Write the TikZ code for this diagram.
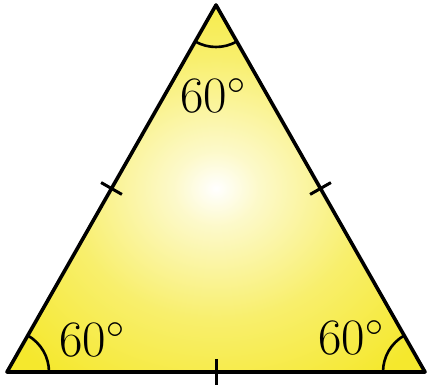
\RequirePackage{fix-cm}
\documentclass[tikz,border=0pt]{standalone}
\usetikzlibrary{calc,angles}
\definecolor{triyellow}{RGB}{245,232,45}
\pgfdeclareradialshading{trishade}{\pgfpoint{0bp}{0bp}}{%
  color(0bp)=(white);
  color(5bp)=(white!75!triyellow);
  color(18bp)=(white!30!triyellow);
  color(32bp)=(triyellow);
  color(50bp)=(triyellow)}
\tikzset{
  edge/.style={line width=3.6pt, line join=round},
  tickmark/.style={line width=3pt},
  anglearc/.style={draw, line width=2.6pt, angle radius=42pt},
  anglelabel/.style={inner sep=0pt, anchor=base, font=\fontsize{51}{51}\selectfont}
}
\begin{document}
\begin{tikzpicture}[x=1pt,y=1pt]
\useasboundingbox (0,0) rectangle (428,390);
\coordinate (A) at (7,18);
\coordinate (B) at (425,18);
\coordinate (C) at (216,385);
\shade[shading=trishade] (A) -- (B) -- (C) -- cycle;
\pic[anglearc] {angle = B--A--C};
\pic[anglearc] {angle = C--B--A};
\pic[anglearc] {angle = A--C--B};
\draw[edge] (A) -- (B) -- (C) -- cycle;
% tick marks
\coordinate (mAC) at ($(A)!0.5!(C)$);
\coordinate (mBC) at ($(B)!0.5!(C)$);
\coordinate (mAB) at ($(A)!0.5!(B)$);
\draw[tickmark] ($(mAC)!12pt!90:(C)$) -- ($(mAC)!12pt!-90:(C)$);
\draw[tickmark] ($(mBC)!12pt!90:(C)$) -- ($(mBC)!12pt!-90:(C)$);
\draw[tickmark] ($(mAB)!13pt!90:(B)$) -- ($(mAB)!13pt!-90:(B)$);
% labels
\node[anglelabel] (la) at (92,33) {$60^\circ$};
\node[anglelabel] (lb) at (351,35) {$60^\circ$};
\node[anglelabel] (lc) at (213,277) {$60^\circ$};
\end{tikzpicture}
\end{document}
